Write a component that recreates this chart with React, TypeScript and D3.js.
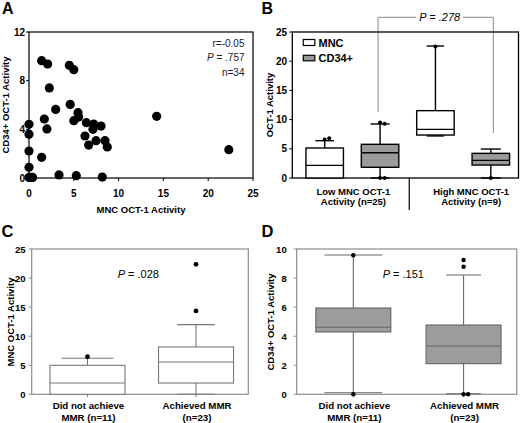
import React from 'react';
import * as d3 from 'd3';

// ---------- Panel A data ----------
const mncActivity = [1.41, 2.08, 4.5, 5.0, 2.27, 2.98, 4.6, 5.47, 5.54, 5.0, 1.71, 2.0, 6.4, 7.22, 7.14, 8.04, 6.25, 6.66, 7.48, 8.48, 8.74, 14.25, 22.3, 1.41, 3.35, 5.28, 8.18, 0, 0, 0, 0, 0, 0.4, 0.15];
const cd34Activity = [9.64, 9.37, 9.26, 8.9, 7.4, 5.64, 6.05, 5.37, 5.01, 4.71, 4.85, 4.03, 4.55, 4.44, 4.0, 4.27, 3.45, 2.71, 3.07, 3.07, 2.55, 5.07, 2.33, 1.7, 0.25, 0.19, 0.08, 4.41, 3.6, 2.22, 0.88, 0.05, 0.05, 0.05];
const aXTicks = [0, 5, 10, 15, 20, 25];
const aYTicks = [0, 4, 8, 12];
const aStats = ['r=-0.05', 'P = .757', 'n=34'];

// ---------- Panel B data ----------
const bGroups = ['Low', 'High'];
const bGroupLabels = [['Low MNC OCT-1', 'Activity (n=25)'], ['High MNC OCT-1', 'Activity (n=9)']];
const bSeries = ['MNC', 'CD34+'];
// [lo, q1, median, q3, hi]
const bMncStats = [[0, 0, 2.17, 5.14, 6.39], [7.2, 7.36, 8.33, 11.53, 22.6]];
const bCd34Stats = [[0, 1.83, 4.33, 5.77, 9.25], [0, 2.22, 3.02, 4.22, 4.96]];
const bMncOutliers = [[6.6, 6.8], [22.5]];
const bCd34Outliers = [[9.5, 9.3, 0, 0], [0]];
const bYTicks = [0, 5, 10, 15, 20, 25];
const bPValue = 'P = .278';

// ---------- Panel C data ----------
const cdGroupLabels = [['Did not achieve', 'MMR (n=11)'], ['Achieved MMR', '(n=23)']];
const cStats = [[0, 0, 1.94, 4.99, 6.2], [0, 1.94, 5.56, 8.14, 11.98]];
const cOutliers = [[6.47], [14.34, 22.37]];
const cYTicks = [0, 5, 10, 15, 20, 25];
const cPValue = 'P = .028';

// ---------- Panel D data ----------
const dStats = [[0.11, 4.29, 4.61, 5.94, 9.59], [0.04, 2.11, 3.32, 4.77, 8.21]];
const dOutliers = [[9.57, 0], [9.24, 8.78, 0, 0]];
const dYTicks = [0, 2, 4, 6, 8, 10];
const dPValue = 'P = .151';

const FONT = '"Liberation Sans", Arial, Helvetica, sans-serif';

type BoxProps = {
  cx: number; w: number; capW: number; stats: number[]; outliers: number[];
  y: d3.ScaleLinear<number, number>; fill: string; stroke: string; sw: number; dotR: number; dotColor: string;
};

function BoxPlot({ cx, w, capW, stats, outliers, y, fill, stroke, sw, dotR, dotColor }: BoxProps) {
  const [lo, q1, med, q3, hi] = stats;
  const offs: number[] = [];
  outliers.forEach((v, i) => {
    let n = 0;
    for (let j = 0; j < i; j++) if (Math.abs(outliers[j] - v) < 0.35) n++;
    offs.push(n * 4.5);
  });
  return (
    <g>
      {hi > q3 && <line x1={cx} x2={cx} y1={y(q3)} y2={y(hi)} stroke={stroke} strokeWidth={sw} />}
      {hi > q3 && <line x1={cx - capW / 2} x2={cx + capW / 2} y1={y(hi)} y2={y(hi)} stroke={stroke} strokeWidth={sw} />}
      {lo < q1 && <line x1={cx} x2={cx} y1={y(q1)} y2={y(lo)} stroke={stroke} strokeWidth={sw} />}
      {lo < q1 && <line x1={cx - capW / 2} x2={cx + capW / 2} y1={y(lo)} y2={y(lo)} stroke={stroke} strokeWidth={sw} />}
      <rect x={cx - w / 2} y={y(q3)} width={w} height={Math.max(0.5, y(q1) - y(q3))} fill={fill} stroke={stroke} strokeWidth={sw} />
      <line x1={cx - w / 2} x2={cx + w / 2} y1={y(med)} y2={y(med)} stroke={stroke} strokeWidth={sw} />
      {outliers.map((v, i) => (
        <circle key={i} cx={cx + offs[i]} cy={y(v)} r={dotR} fill={dotColor} />
      ))}
    </g>
  );
}

function PanelA() {
  const x = d3.scaleLinear().domain([0, 25]).range([29, 253]);
  const y = d3.scaleLinear().domain([0, 12]).range([178, 32]);
  return (
    <g fontFamily={FONT}>
      <text x={2} y={13.5} fontSize={16} fontWeight="bold">A</text>
      {mncActivity.map((v, i) => (
        <circle key={i} cx={x(v)} cy={y(cd34Activity[i])} r={4.6} fill="#000" />
      ))}
      <rect x={x(0)} y={y(12)} width={x(25) - x(0)} height={y(0) - y(12)} fill="none" stroke="#000" strokeWidth={1.2} />
      {aXTicks.map(t => (
        <g key={t}>
          <line x1={x(t)} x2={x(t)} y1={y(0)} y2={y(0) + 3} stroke="#000" />
          <text x={x(t)} y={197} fontSize={10} fontWeight="bold" textAnchor="middle">{t}</text>
        </g>
      ))}
      {aYTicks.map(t => (
        <g key={t}>
          <line x1={x(0) - 3} x2={x(0)} y1={y(t)} y2={y(t)} stroke="#000" />
          <text x={25} y={y(t) + 3.6} fontSize={10} fontWeight="bold" textAnchor="end">{t}</text>
        </g>
      ))}
      <text x={141} y={213} fontSize={9.5} fontWeight="bold" textAnchor="middle">MNC OCT-1 Activity</text>
      <text transform={`translate(8.5,105) rotate(-90)`} fontSize={9.5} fontWeight="bold" textAnchor="middle">CD34+ OCT-1 Activity</text>
      <text x={244.5} y={46.7} fontSize={10} textAnchor="end" fill="#222">{aStats[0]}</text>
      <text x={244.5} y={60.7} fontSize={10} textAnchor="end" fill="#222"><tspan fontStyle="italic">P</tspan>{aStats[1].slice(1)}</text>
      <text x={244.5} y={75.7} fontSize={10} textAnchor="end" fill="#222">{aStats[2]}</text>
    </g>
  );
}

function PanelB() {
  const y = d3.scaleLinear().domain([0, 25]).range([178, 32]);
  const gx = d3.scaleBand<string>().domain(bGroups).range([297, 518.5]).padding(0);
  const sx = d3.scaleBand<string>().domain(bSeries).range([0, gx.bandwidth()]).padding(0);
  const capWs = [[18.6, 19], [17.4, 20]];
  const left = 292.3, right = 518.5;
  const cxOf = (g: string, s: string) => (gx(g) as number) + (sx(s) as number) + sx.bandwidth() / 2;
  const lX = cxOf('Low', 'CD34+') - 2;
  const rX = cxOf('High', 'CD34+') + 2.5;
  const topY = 17.3;
  return (
    <g fontFamily={FONT}>
      <text x={261.5} y={13.5} fontSize={16} fontWeight="bold">B</text>
      {/* bracket */}
      <g stroke="#8a8a8a" strokeWidth={1}>
        <line x1={lX} x2={lX} y1={topY} y2={y(11.3)} />
        <line x1={rX} x2={rX} y1={topY} y2={y(7.7)} />
        <line x1={lX} x2={416} y1={topY} y2={topY} />
        <line x1={463} x2={rX} y1={topY} y2={topY} />
      </g>
      <text x={439.7} y={21.3} fontSize={11} fontStyle="italic" textAnchor="middle">{bPValue}</text>
      <rect x={left} y={y(25)} width={right - left} height={y(0) - y(25)} fill="none" stroke="#000" strokeWidth={1.3} />
      {bGroups.map((g, gi) => (
        <g key={g}>
          <BoxPlot cx={cxOf(g, 'MNC')} w={37.5} capW={capWs[gi][0]} stats={bMncStats[gi]} outliers={bMncOutliers[gi]} y={y} fill="#fff" stroke="#000" sw={1.4} dotR={2} dotColor="#000" />
          <BoxPlot cx={cxOf(g, 'CD34+')} w={37.5} capW={capWs[gi][1]} stats={bCd34Stats[gi]} outliers={bCd34Outliers[gi]} y={y} fill="#9a9a9a" stroke="#000" sw={1.4} dotR={2} dotColor="#000" />
          {bGroupLabels[gi].map((l, li) => (
            <text key={li} x={(gx(g) as number) + gx.bandwidth() / 2 + (gi === 0 ? 1 : 8)} y={195 + li * 10} fontSize={9.5} fontWeight="bold" textAnchor="middle">{l}</text>
          ))}
        </g>
      ))}
      <line x1={(gx('High') as number) + 1.5} x2={(gx('High') as number) + 1.5} y1={y(0)} y2={210} stroke="#000" strokeWidth={1.2} />
      {bYTicks.map(t => (
        <g key={t}>
          <line x1={left - 3} x2={left} y1={y(t)} y2={y(t)} stroke="#000" />
          <text x={287} y={y(t) + 3.6} fontSize={10} fontWeight="bold" textAnchor="end">{t}</text>
        </g>
      ))}
      <text transform={`translate(273,105) rotate(-90)`} fontSize={9.5} fontWeight="bold" textAnchor="middle">OCT-1 Activity</text>
      {/* legend */}
      <rect x={303.3} y={39.5} width={11.5} height={6} fill="#fff" stroke="#000" strokeWidth={1.2} />
      <text x={318.5} y={46.7} fontSize={11} fontWeight="bold">{bSeries[0]}</text>
      <rect x={303.3} y={55.3} width={11.5} height={5.5} fill="#9a9a9a" stroke="#000" strokeWidth={1.2} />
      <text x={318.5} y={61.7} fontSize={11} fontWeight="bold">{bSeries[1]}</text>
    </g>
  );
}

type LowerProps = {
  letter: string; letterX: number; left: number; right: number; yMax: number; ticks: number[];
  stats: number[][]; outliers: number[][]; fill: string; stroke: string; capWs: number[];
  pValue: string; pX: number; yLabel: string; yLabelX: number; tickRight: number; dotR: number;
};

function LowerPanel(p: LowerProps) {
  const y = d3.scaleLinear().domain([0, p.yMax]).range([394.3, 249]);
  const gx = d3.scaleBand<number>().domain([0, 1]).range([p.left + 1.5, p.right + 2]).padding(0);
  const frame = '#8c8c8c';
  return (
    <g fontFamily={FONT}>
      <text x={p.letterX} y={237} fontSize={16.5} fontWeight="bold">{p.letter}</text>
      <rect x={p.left} y={y(p.yMax)} width={p.right - p.left} height={y(0) - y(p.yMax)} fill="none" stroke={frame} strokeWidth={1.2} />
      {p.ticks.map(t => (
        <g key={t}>
          <line x1={p.left - 3} x2={p.left} y1={y(t)} y2={y(t)} stroke={frame} />
          <text x={p.tickRight} y={y(t) + 3.5} fontSize={9.5} fontWeight="bold" textAnchor="end">{t}</text>
        </g>
      ))}
      {p.stats.map((s, i) => {
        const cx = (gx(i) as number) + gx.bandwidth() / 2;
        return (
          <g key={i}>
            <line x1={cx} x2={cx} y1={y(0)} y2={y(0) + 3} stroke={frame} />
            <BoxPlot cx={cx} w={75} capW={p.capWs[i]} stats={s} outliers={p.outliers[i]} y={y} fill={p.fill} stroke={p.stroke} sw={1.1} dotR={p.dotR} dotColor="#000" />
            {cdGroupLabels[i].map((l, li) => (
              <text key={li} x={cx + 1} y={408.5 + li * 12.5} fontSize={9.7} fontWeight="bold" textAnchor="middle">{l}</text>
            ))}
          </g>
        );
      })}
      <text x={p.pX} y={278.3} fontSize={11} textAnchor="middle"><tspan fontStyle="italic">P</tspan>{p.pValue.slice(1)}</text>
      <text transform={`translate(${p.yLabelX},322) rotate(-90)`} fontSize={9.5} fontWeight="bold" textAnchor="middle">{p.yLabel}</text>
    </g>
  );
}

export default function App() {
  return (
    <svg width={520} height={423} style={{ position: 'absolute', left: 0, top: 0, background: '#fff' }}>
      <rect width={520} height={423} fill="#fff" />
      <PanelA />
      <PanelB />
      <LowerPanel letter="C" letterX={1.5} left={31.7} right={248.3} yMax={25} ticks={cYTicks} stats={cStats} outliers={cOutliers}
        fill="#fff" stroke="#777" capWs={[52, 38]} pValue={cPValue} pX={138.3} yLabel="MNC OCT-1 Activity" yLabelX={13.5} tickRight={25.5} dotR={2.4} />
      <LowerPanel letter="D" letterX={261.5} left={296.7} right={516.7} yMax={10} ticks={dYTicks} stats={dStats} outliers={dOutliers}
        fill="#9c9c9c" stroke="#666" capWs={[58, 35]} pValue={dPValue} pX={403.3} yLabel="CD34+ OCT-1 Activity" yLabelX={274} tickRight={286.7} dotR={2.2} />
    </svg>
  );
}
